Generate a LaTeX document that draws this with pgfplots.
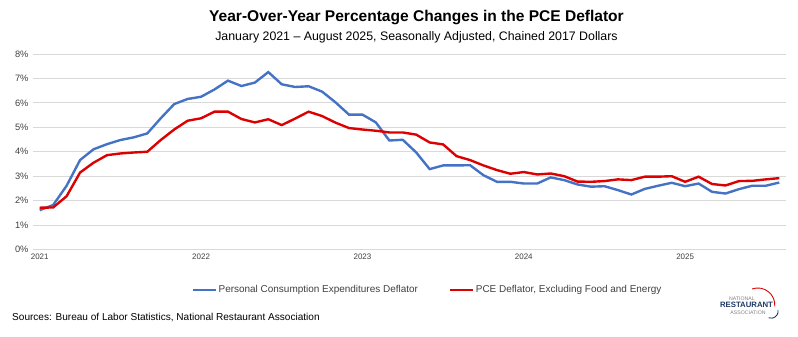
\documentclass[border=0pt]{standalone}
\usepackage{pgfplots}
\pgfplotsset{compat=1.18}
\usepackage{fontspec}
\setmainfont{Liberation Sans}
\definecolor{pceblue}{RGB}{68,114,196}
\definecolor{pcered}{RGB}{220,0,0}
\definecolor{gridgray}{RGB}{217,217,217}
\definecolor{txtgray}{RGB}{64,64,64}
\definecolor{navy}{RGB}{31,56,100}
\begin{document}
\begin{tikzpicture}[x=1bp,y=1bp]
\path[use as bounding box] (0,0) rectangle (798,336);
\begin{axis}[
  at={(33bp,86.5bp)}, anchor=south west,
  scale only axis, width=753bp, height=195.5bp,
  xmin=-0.5, xmax=55.5, ymin=0, ymax=8,
  axis line style={draw=none},
  ymajorgrids, major grid style={gridgray, line width=0.8pt},
  xtick={0,12,24,36,48}, xticklabels={2021,2022,2023,2024,2025},
  ytick={0,1,...,8}, yticklabel={\pgfmathprintnumber{\tick}\%},
  /pgf/number format/assume math mode=true,
  tick label style={font=\fontsize{9.3}{10}\selectfont, text=txtgray},
  xticklabel style={font=\fontsize{8}{9}\selectfont, yshift=-1bp},
  yticklabel style={xshift=-1bp},
  major tick length=0pt,
  legend columns=2,
  legend style={at={(0.524,-0.207)}, anchor=center, draw=none, fill=none,
    font=\fontsize{10}{11}\selectfont, text=txtgray,
    /tikz/every even column/.append style={column sep=29bp},
    inner sep=0pt, cells={anchor=west}},
  legend image code/.code={\draw[#1, line width=2.2pt] (0,0) -- (0.8cm,0);},
]
\addplot[pceblue, line width=2.4pt] coordinates {
(0,1.61)(1,1.82)(2,2.61)(3,3.66)(4,4.10)(5,4.31)(6,4.48)(7,4.59)(8,4.75)(9,5.37)(10,5.95)(11,6.16)
(12,6.25)(13,6.55)(14,6.91)(15,6.69)(16,6.83)(17,7.26)(18,6.76)(19,6.65)(20,6.68)(21,6.46)(22,6.02)(23,5.52)
(24,5.52)(25,5.20)(26,4.46)(27,4.49)(28,3.97)(29,3.29)(30,3.44)(31,3.44)(32,3.45)(33,3.04)(34,2.77)(35,2.77)
(36,2.70)(37,2.70)(38,2.95)(39,2.84)(40,2.66)(41,2.57)(42,2.59)(43,2.43)(44,2.25)(45,2.48)(46,2.61)(47,2.73)
(48,2.59)(49,2.70)(50,2.36)(51,2.29)(52,2.47)(53,2.61)(54,2.61)(55,2.74)};
\addlegendentry{Personal Consumption Expenditures Deflator}
\addplot[pcered, line width=2.4pt] coordinates {
(0,1.71)(1,1.72)(2,2.18)(3,3.15)(4,3.55)(5,3.86)(6,3.93)(7,3.97)(8,4.00)(9,4.48)(10,4.91)(11,5.27)
(12,5.37)(13,5.64)(14,5.64)(15,5.34)(16,5.20)(17,5.33)(18,5.09)(19,5.36)(20,5.64)(21,5.46)(22,5.19)(23,4.97)
(24,4.91)(25,4.86)(26,4.79)(27,4.79)(28,4.70)(29,4.38)(30,4.30)(31,3.82)(32,3.66)(33,3.44)(34,3.25)(35,3.10)
(36,3.17)(37,3.07)(38,3.11)(39,3.00)(40,2.78)(41,2.77)(42,2.80)(43,2.87)(44,2.84)(45,2.98)(46,2.98)(47,3.00)
(48,2.77)(49,2.98)(50,2.68)(51,2.62)(52,2.80)(53,2.81)(54,2.87)(55,2.92)};
\addlegendentry{PCE Deflator, Excluding Food and Energy}
\end{axis}
\node[font=\bfseries\fontsize{15.6}{17}\selectfont, inner sep=0pt] at (416.5,318) {Year-Over-Year Percentage Changes in the PCE Deflator};
\node[font=\fontsize{12.4}{14}\selectfont, inner sep=0pt] at (416.5,299) {January 2021 -- August 2025, Seasonally Adjusted, Chained 2017 Dollars};
\node[font=\fontsize{10.1}{12}\selectfont, inner sep=0pt, anchor=west] at (12,19) {Sources: Bureau of Labor Statistics, National Restaurant Association};
% logo
\node[font=\fontsize{5.2}{6}\selectfont, text=gray, inner sep=0pt] at (742,37) {NATIONAL};
\node[font=\bfseries\fontsize{7.8}{8}\selectfont, text=navy, inner sep=0pt] at (746.5,31) {RESTAURANT};
\node[font=\fontsize{5.2}{6}\selectfont, text=gray, inner sep=0pt] at (748,23.5) {ASSOCIATION};
\draw[pcered, line width=0.9pt] (752,47) arc[start angle=110, end angle=-5, radius=17];
\draw[navy, line width=0.9pt] (778,26) arc[start angle=10, end angle=-110, radius=7];
\end{tikzpicture}
\end{document}
